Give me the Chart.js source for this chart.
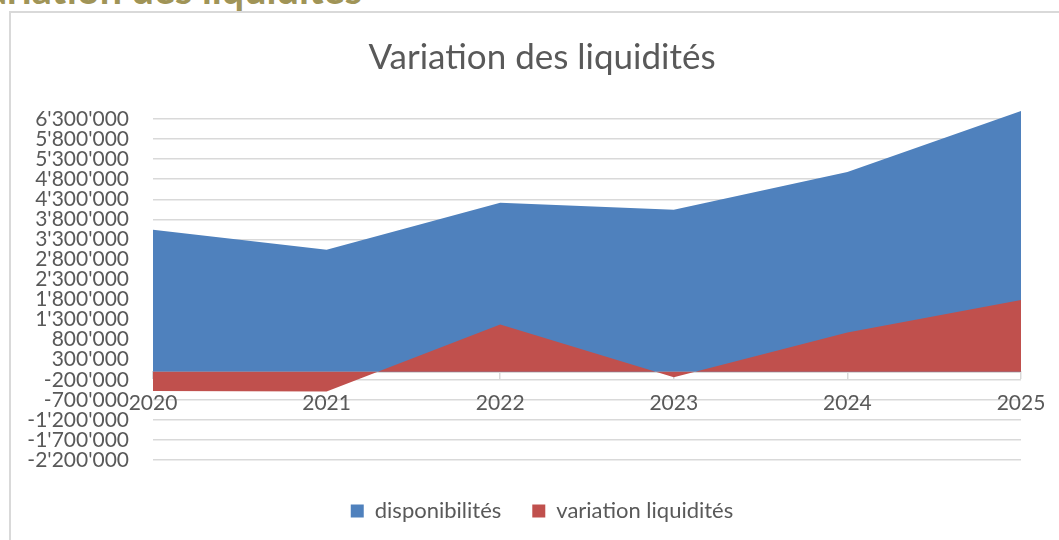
<!DOCTYPE html>
<html>
<head>
<meta charset="utf-8">
<title>Variation des liquidités</title>
<script src="https://cdn.jsdelivr.net/npm/chart.js@4.4.1/dist/chart.umd.min.js"></script>
<style>
    html, body { margin: 0; padding: 0; background: #fff; overflow: hidden; }
    body { width: 1059px; height: 540px; position: relative; font-family: Lato, sans-serif; }
    .heading {
        position: absolute; right: 697px; top: -31px;
        font-size: 39.5px; line-height: 1; font-weight: bold;
        color: #a09457; white-space: nowrap;
    }
    .frame {
        position: absolute; left: 9px; top: 11px; width: 1100px; height: 600px;
        border: 2px solid #d9d9d9;
    }
    #chart { position: absolute; left: 0; top: 0; }
</style>
</head>
<body>
<div class="heading">Variation des liquidités</div>
<div class="frame"></div>
<canvas id="chart" width="1084" height="540"></canvas>
<script>
// Chart data
const years = ['2020', '2021', '2022', '2023', '2024', '2025'];
const disponibilites = [3540000, 3040000, 4210000, 4040000, 4980000, 6500000];
const variationLiquidites = [-480000, -490000, 1175000, -140000, 980000, 1790000];
const yTicks = [-2200000, -1700000, -1200000, -700000, -200000, 300000, 800000, 1300000,
    1800000, 2300000, 2800000, 3300000, 3800000, 4300000, 4800000, 5300000, 5800000, 6300000];

const textColor = '#595959';
const gridColor = '#d9d9d9';

// 6300000 -> 6'300'000
function formatNumber(v) {
    const s = String(Math.abs(v)).replace(/\B(?=(\d{3})+(?!\d))/g, "'");
    return v < 0 ? '-' + s : s;
}

function initChart() {
    const ctx = document.getElementById('chart');
    new Chart(ctx, {
        type: 'line',
        data: {
            labels: years,
            datasets: [{
                label: 'disponibilités',
                data: disponibilites,
                backgroundColor: '#4f81bd',
                borderWidth: 0,
                pointRadius: 0,
                fill: 'origin',
                order: 1
            }, {
                label: 'variation liquidités',
                data: variationLiquidites,
                backgroundColor: '#c0504d',
                borderWidth: 0,
                pointRadius: 0,
                fill: 'origin',
                order: 0
            }]
        },
        options: {
            responsive: false,
            animation: false,
            layout: { padding: { left: 0, right: 0, top: 0, bottom: 8 } },
            plugins: {
                title: {
                    display: true,
                    text: 'Variation des liquidités',
                    color: textColor,
                    font: { family: 'Lato', size: 35, weight: 'normal' },
                    padding: { top: 37, bottom: 32 }
                },
                legend: {
                    position: 'bottom',
                    // empty title only adds space above the items
                    title: { display: true, text: '', font: { size: 9, lineHeight: 1 }, padding: 0 },
                    labels: {
                        color: textColor,
                        font: { family: 'Lato', size: 22 },
                        boxWidth: 13,
                        boxHeight: 13,
                        padding: 31,
                        sort: (a, b) => a.datasetIndex - b.datasetIndex
                    }
                },
                tooltip: { enabled: false }
            },
            scales: {
                x: {
                    position: { y: 0 },
                    offset: false,
                    z: 1,
                    grid: { drawOnChartArea: false, color: gridColor, tickLength: 6, lineWidth: 1.5 },
                    border: { color: gridColor, width: 2 },
                    ticks: {
                        color: textColor,
                        font: { family: 'Lato', size: 21 },
                        padding: 13,
                        maxRotation: 0
                    }
                },
                y: {
                    min: -2200000,
                    max: 6500000,
                    afterBuildTicks: scale => {
                        scale.ticks = yTicks.map(v => ({ value: v }));
                    },
                    afterFit: scale => {
                        scale.width = 153;
                    },
                    grid: { color: gridColor, lineWidth: 1.5, drawTicks: false },
                    border: { display: false },
                    ticks: {
                        color: textColor,
                        font: { family: 'Lato', size: 21 },
                        padding: 24,
                        autoSkip: false,
                        callback: v => formatNumber(v)
                    }
                },
                // empty right-hand space so the title and legend stay centred on the frame
                spacer: {
                    position: 'right',
                    grid: { display: false },
                    border: { display: false },
                    ticks: { display: false },
                    afterFit: scale => {
                        scale.width = 63;
                    }
                }
            }
        }
    });
}

if (document.readyState === 'loading') {
    document.addEventListener('DOMContentLoaded', initChart);
} else {
    initChart();
}
</script>
</body>
</html>
